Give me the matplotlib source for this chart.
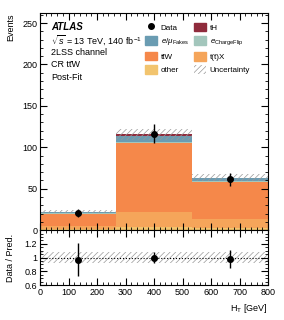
import numpy as np
import matplotlib
matplotlib.use('Agg')
import matplotlib.pyplot as plt
from matplotlib.patches import Patch
from matplotlib.lines import Line2D

plt.rcParams['font.family'] = ['Liberation Sans', 'DejaVu Sans']
plt.rcParams['mathtext.fontset'] = 'custom'
plt.rcParams['mathtext.rm'] = 'Liberation Sans'
plt.rcParams['mathtext.it'] = 'Liberation Sans:italic'
plt.rcParams['hatch.linewidth'] = 0.5

# bins in H_T [GeV]
edges = [0, 267, 533, 800]

# stacked backgrounds, bottom to top
other = [1.0, 4.0, 3.0]
ttX = [4.0, 18.0, 10.0]
ttW = [15.0, 83.0, 45.0]
qflip = [0.5, 1.5, 1.2]
fakes = [1.2, 7.5, 3.3]
tH = [0.4, 1.5, 0.8]

data = [20.5, 116.5, 61.5]
data_err = [5.0, 11.0, 8.0]
unc = [1.8, 7.0, 4.5]

ratio = [0.97, 1.0, 0.98]
ratio_err = [0.24, 0.08, 0.13]
ratio_unc = [0.085, 0.085, 0.085]

names = ['other', 't(t̄)X', 'tt̄W', r'$e_{\mathrm{ChargeFlip}}$', r'$e/\mu_{\mathrm{Fakes}}$', 'tH']
colors = ['#f2c46e', '#f5a55a', '#f5884a', '#a3c6bc', '#6a9cb2', '#8f2b3c']
comps = [other, ttX, ttW, qflip, fakes, tH]

fig = plt.figure(figsize=(2.84, 3.2), dpi=100)
ax = fig.add_axes([0.141, 0.281, 0.803, 0.678])
rx = fig.add_axes([0.141, 0.109, 0.803, 0.172], sharex=ax)

edges = np.array(edges)
centers = 0.5 * (edges[:-1] + edges[1:])
widths = np.diff(edges)
bottom = np.zeros(3)
for vals, c in zip(comps, colors):
    ax.bar(edges[:-1], vals, width=widths, bottom=bottom, align='edge', color=c, edgecolor='none')
    bottom += np.array(vals)
total = bottom

ax.bar(edges[:-1], 2 * np.array(unc), width=widths, bottom=total - np.array(unc), align='edge',
       facecolor='none', edgecolor='#999999', hatch='//////', linewidth=0)
ax.errorbar(centers, data, yerr=data_err, fmt='o', color='black', ms=4, elinewidth=1, capsize=0)

ax.set_xlim(0, 800)
ax.set_ylim(0, 262)
ax.set_yticks([0, 50, 100, 150, 200, 250])
ax.set_ylabel('Events', loc='top', fontsize=6.5)
plt.setp(ax.get_xticklabels(), visible=False)

# ratio panel
rx.bar(edges[:-1], 2 * np.array(ratio_unc), width=widths, bottom=1 - np.array(ratio_unc), align='edge',
       facecolor='none', edgecolor='#999999', hatch='//////', linewidth=0)
rx.axhline(1, color='black', ls=':', lw=0.8)
rx.errorbar(centers, ratio, yerr=ratio_err, fmt='o', color='black', ms=4, elinewidth=1, capsize=0)
rx.set_ylim(0.6, 1.4)
rx.set_yticks([0.6, 0.8, 1.0, 1.2])
rx.set_yticklabels(['0.6', '0.8', '1', '1.2'])
rx.set_xticks(range(0, 801, 100))
rx.set_ylabel('Data / Pred.', fontsize=6.5)
rx.set_xlabel(r'H$_{\mathrm{T}}$ [GeV]', loc='right', fontsize=6.5)

for a in (ax, rx):
    a.minorticks_on()
    a.tick_params(which='both', direction='in', top=True, right=True, labelsize=6.5, pad=2)
    a.tick_params(which='major', length=5)
    a.tick_params(which='minor', length=2.5)
rx.yaxis.set_minor_locator(matplotlib.ticker.MultipleLocator(0.05))
ax.xaxis.set_minor_locator(matplotlib.ticker.MultipleLocator(20))
rx.xaxis.set_minor_locator(matplotlib.ticker.MultipleLocator(20))
ax.yaxis.set_minor_locator(matplotlib.ticker.MultipleLocator(10))
ax.yaxis.set_label_coords(-0.11, 1.0)
rx.yaxis.set_label_coords(-0.11, 0.5)

# labels
ax.text(0.05, 0.935, 'ATLAS', transform=ax.transAxes, fontsize=7, weight='bold', style='italic', va='center')
info = [r'$\sqrt{s}$ = 13 TeV, 140 fb$^{-1}$', '2LSS channel', 'CR tt̄W', 'Post-Fit']
for i, t in enumerate(info):
    ax.text(0.05, 0.877 - i * 0.058, t, transform=ax.transAxes, fontsize=6.5, va='center')

handles = [Line2D([], [], marker='o', color='black', ls='none', ms=4),
           Patch(color=colors[4]),
           Patch(color=colors[2]),
           Patch(color=colors[0]),
           Patch(color=colors[5]),
           Patch(color=colors[3]),
           Patch(color=colors[1]),
           Patch(facecolor='none', edgecolor='#999999', hatch='//////', linewidth=0)]
labels = ['Data', names[4], names[2], names[0], 'tH', names[3], names[1], 'Uncertainty']
ax.legend(handles, labels, ncol=2, loc='upper left', bbox_to_anchor=(0.43, 0.99), fontsize=5.8,
          frameon=False, handlelength=1.5, handleheight=1.3, columnspacing=0.7, labelspacing=0.55,
          handletextpad=0.4)

fig.savefig('out.png', dpi=100)
